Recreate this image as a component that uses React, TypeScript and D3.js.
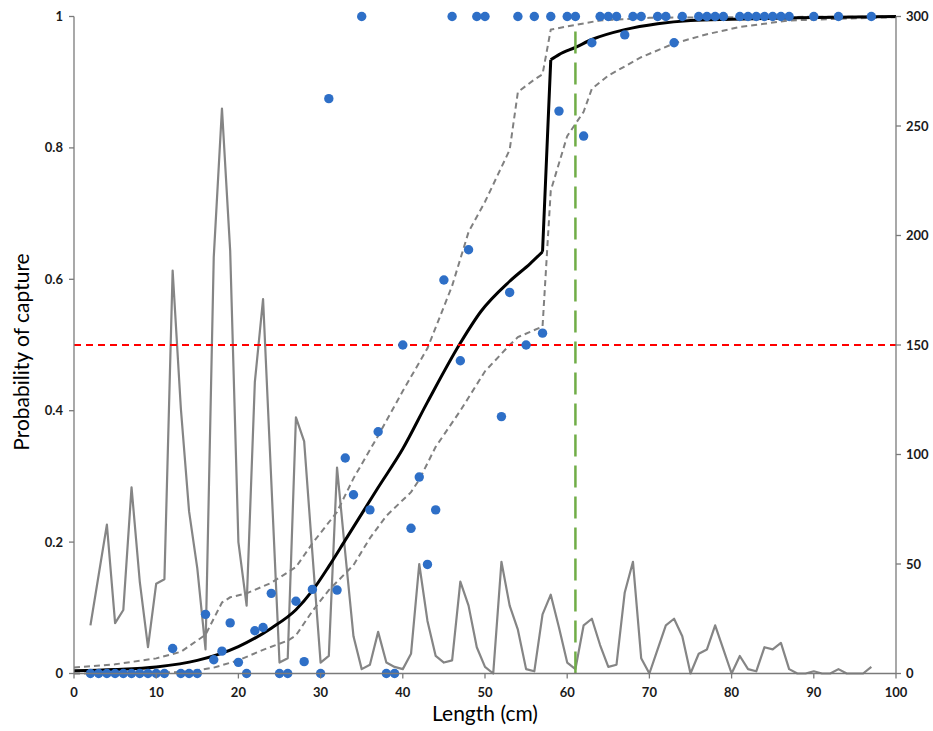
import React from "react";
import * as d3 from "d3";

// Frequency (right axis), one value per cm from 2 to 97
const freqStart = 2;
const freqValues = [
  22, 45, 68, 23, 29, 85, 42, 12, 41, 43, // 2-11
  184, 121, 74, 48, 11, 190, 258, 193, 60, 31, // 12-21
  133, 171, 88, 5, 7, 117, 106, 55, 5, 8, // 22-31
  94, 55, 17, 2, 4, 19, 5, 3, 2, 9, // 32-41
  50, 24, 8, 5, 6, 42, 31, 12, 3, 0, // 42-51
  51, 31, 20, 2, 1, 27, 36, 21, 5, 2, // 52-61
  22, 25, 13, 3, 4, 37, 51, 7, 0, 11, // 62-71
  22, 25, 17, 0, 9, 11, 22, 11, 0, 8, // 72-81
  2, 1, 12, 11, 14, 2, 0, 0, 1, 0, // 82-91
  0, 2, 0, 0, 0, 3, // 92-97
];

// Observed proportions (left axis)
const obsX = [
  2, 3, 4, 5, 6, 7, 8, 9, 10, 11, 12, 13, 14, 15, 16, 17, 18, 19, 20, 21, 22, 23, 24, 25, 26, 27, 28, 29, 30,
  31, 32, 33, 34, 35, 36, 37, 38, 39, 40, 41, 42, 43, 44, 45, 46, 47, 48, 49, 50, 52, 53, 54, 55, 56, 57, 58,
  59, 60, 61, 62, 63, 64, 65, 66, 67, 68, 69, 71, 72, 73, 74, 76, 77, 78, 79, 81, 82, 83, 84, 85, 86, 87, 90,
  93, 97,
];
const obsP = [
  0, 0, 0, 0, 0, 0, 0, 0, 0, 0, 0.038, 0, 0, 0, 0.09, 0.021, 0.034, 0.077, 0.017, 0, 0.065, 0.07, 0.122, 0, 0,
  0.11, 0.018, 0.128, 0, 0.875, 0.127, 0.328, 0.272, 1, 0.249, 0.368, 0, 0, 0.5, 0.221, 0.299, 0.166, 0.249,
  0.599, 1, 0.476, 0.645, 1, 1, 0.391, 0.58, 1, 0.5, 1, 0.518, 1, 0.856, 1, 1, 0.818, 0.96, 1, 1, 1, 0.972, 1,
  1, 1, 1, 0.96, 1, 1, 1, 1, 1, 1, 1, 1, 1, 1, 1, 1, 1, 1, 1,
];

// Fitted selection curve: lower branch (to 57 cm) and upper branch (from 58 cm)
const fitLowX = [0, 5, 10, 15, 20, 24, 27, 29, 31, 33, 35, 37, 40, 43, 47, 49.5, 53, 55.5, 57];
const fitLowP = [
  0.004, 0.006, 0.01, 0.02, 0.041, 0.069, 0.097, 0.126, 0.163, 0.203, 0.243, 0.283, 0.342, 0.413, 0.503,
  0.551, 0.597, 0.624, 0.642,
];
const fitHighX = [58, 59, 61, 63, 67, 71, 75, 80, 88, 100];
const fitHighP = [0.934, 0.942, 0.953, 0.965, 0.98, 0.989, 0.994, 0.996, 0.998, 1.0];

// Upper confidence limit
const upperX = [0, 5, 10, 13, 16, 18, 19, 21, 24, 27, 29, 32, 34, 37, 40, 43, 46, 48, 50, 53, 54, 56, 57, 58, 60, 64, 70, 80, 100];
const upperP = [
  0.009, 0.014, 0.023, 0.033, 0.059, 0.108, 0.116, 0.122, 0.138, 0.162, 0.198, 0.246, 0.297, 0.362, 0.43,
  0.495, 0.59, 0.672, 0.718, 0.797, 0.885, 0.904, 0.912, 0.98, 0.985, 0.994, 0.998, 0.999, 1.0,
];

// Lower confidence limit
const lowerX = [0, 10, 14, 17, 20, 23, 26, 27, 29, 31, 34, 36, 38, 41, 42, 44, 47, 50, 53, 54, 57, 58, 60, 62, 63, 65, 69, 73, 77, 81, 87, 97, 100];
const lowerP = [
  0.0, 0.001, 0.003, 0.009, 0.02, 0.036, 0.05, 0.058, 0.095, 0.127, 0.165, 0.206, 0.24, 0.276, 0.295, 0.345,
  0.4, 0.46, 0.5, 0.512, 0.528, 0.735, 0.818, 0.855, 0.89, 0.91, 0.938, 0.959, 0.973, 0.984, 0.994, 0.998, 0.999,
];

const l50 = 0.5;
const lRef = 61;
const lRefTop = 0.98;

const xTicks = [0, 10, 20, 30, 40, 50, 60, 70, 80, 90, 100];
const yTicks = [0, 0.2, 0.4, 0.6, 0.8, 1];
const yTickLabels = ["0", "0.2", "0.4", "0.6", "0.8", "1"];
const y2Ticks = [0, 50, 100, 150, 200, 250, 300];

const W = 933;
const H = 731;
const M = { left: 74, right: 896, top: 16.5, bottom: 673.5 };

export default function App() {
  const x = d3.scaleLinear().domain([0, 100]).range([M.left, M.right]);
  const y = d3.scaleLinear().domain([0, 1]).range([M.bottom, M.top]);
  const y2 = d3.scaleLinear().domain([0, 300]).range([M.bottom, M.top]);

  const freqPts: [number, number][] = freqValues.map((v, i) => [x(freqStart + i), y2(v)]);
  const lineLin = d3.line();
  const lineSmooth = d3.line().curve(d3.curveMonotoneX);

  const lowPts: [number, number][] = fitLowX.map((v, i) => [x(v), y(fitLowP[i])]);
  const highPts: [number, number][] = fitHighX.map((v, i) => [x(v), y(fitHighP[i])]);
  const jumpPts: [number, number][] = [lowPts[lowPts.length - 1], highPts[0]];
  const fitPath = (lineSmooth(lowPts) || "") + (lineLin(jumpPts) || "") + (lineSmooth(highPts) || "");

  const upPts: [number, number][] = upperX.map((v, i) => [x(v), y(upperP[i])]);
  const loPts: [number, number][] = lowerX.map((v, i) => [x(v), y(lowerP[i])]);

  const axisColor = "#7a7a7a";
  const tickFont = "Lato, 'Liberation Sans', sans-serif";
  const labelColor = "#1a1a1a";

  return (
    <svg width={W} height={H} style={{ position: "absolute", left: 0, top: 0, background: "#fff" }}>
      {/* frequency line */}
      <path d={lineLin(freqPts) || ""} fill="none" stroke="#858585" strokeWidth={2.2} strokeLinejoin="round" />
      {/* CI */}
      <path d={lineLin(upPts) || ""} fill="none" stroke="#808080" strokeWidth={2} strokeDasharray="6 4" />
      <path d={lineLin(loPts) || ""} fill="none" stroke="#808080" strokeWidth={2} strokeDasharray="6 4" />
      {/* fitted curve */}
      <path d={fitPath} fill="none" stroke="#000" strokeWidth={3} strokeLinejoin="round" />
      {/* reference lines */}
      <line x1={x(0)} x2={x(100)} y1={y(l50)} y2={y(l50)} stroke="#ff0000" strokeWidth={2} strokeDasharray="7 5" />
      <line x1={x(lRef)} x2={x(lRef)} y1={y(0)} y2={y(lRefTop)} stroke="#70AD47" strokeWidth={2.5} strokeDasharray="22 9" />
      {/* observed points */}
      {obsX.map((v, i) => (
        <circle key={i} cx={x(v)} cy={y(obsP[i])} r={4.7} fill="#2E6FC7" />
      ))}
      {/* axes */}
      <line x1={M.left} x2={M.left} y1={M.top} y2={M.bottom} stroke={axisColor} strokeWidth={1.3} />
      <line x1={M.right} x2={M.right} y1={M.top} y2={M.bottom} stroke={axisColor} strokeWidth={1.3} />
      <line x1={M.left} x2={M.right} y1={M.bottom} y2={M.bottom} stroke={axisColor} strokeWidth={1.3} />
      {yTicks.map((t, i) => (
        <g key={"yl" + i}>
          <line x1={M.left - 5} x2={M.left} y1={y(t)} y2={y(t)} stroke={axisColor} strokeWidth={1.3} />
          <text x={M.left - 11} y={y(t)} dy="0.35em" textAnchor="end" fontFamily={tickFont} fontWeight="bold" fontSize={13} fill={labelColor}>
            {yTickLabels[i]}
          </text>
        </g>
      ))}
      {y2Ticks.map((t, i) => (
        <g key={"yr" + i}>
          <line x1={M.right} x2={M.right + 5} y1={y2(t)} y2={y2(t)} stroke={axisColor} strokeWidth={1.3} />
          <text x={M.right + 10} y={y2(t)} dy="0.35em" textAnchor="start" fontFamily={tickFont} fontWeight="bold" fontSize={13} fill={labelColor}>
            {t}
          </text>
        </g>
      ))}
      {xTicks.map((t, i) => (
        <g key={"x" + i}>
          <line x1={x(t)} x2={x(t)} y1={M.bottom} y2={M.bottom + 5} stroke={axisColor} strokeWidth={1.3} />
          <text x={x(t)} y={M.bottom + 19} dy="0.35em" textAnchor="middle" fontFamily={tickFont} fontWeight="bold" fontSize={13} fill={labelColor}>
            {t}
          </text>
        </g>
      ))}
      <text x={(M.left + M.right) / 2} y={721} textAnchor="middle" fontFamily={tickFont} fontSize={21} fill="#000">
        Length (cm)
      </text>
      <text
        transform={`translate(29, 352) rotate(-90)`}
        textAnchor="middle"
        fontFamily={tickFont}
        fontSize={21}
        fill="#000"
      >
        Probability of capture
      </text>
    </svg>
  );
}
